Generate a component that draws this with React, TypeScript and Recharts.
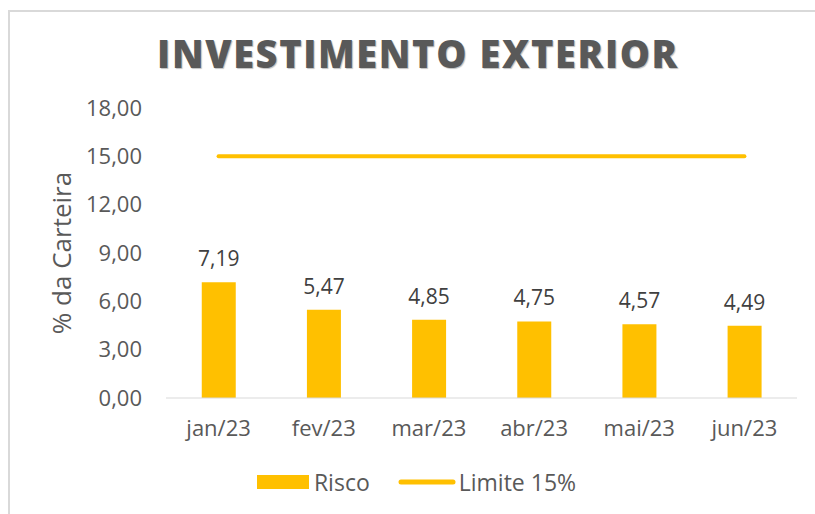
import { ComposedChart, Bar, Line, XAxis, YAxis, LabelList, Legend } from 'recharts'

const months = ['jan/23', 'fev/23', 'mar/23', 'abr/23', 'mai/23', 'jun/23']
const risco = [7.19, 5.47, 4.85, 4.75, 4.57, 4.49]
const limite = [15, 15, 15, 15, 15, 15]
const yTicks = [0, 3, 6, 9, 12, 15, 18]

const data = months.map((m, i) => ({ month: m, risco: risco[i], limite: limite[i] }))

const YELLOW = '#FFC000'
const GRAY = '#595959'
const FONT = '"Open Sans", sans-serif'

const fmt = (v: number) => v.toFixed(2).replace('.', ',')

function LegendContent() {
  return (
    <div style={{ display: 'flex', justifyContent: 'center', alignItems: 'center', fontFamily: FONT, fontSize: 23, color: GRAY, paddingLeft: 36 }}>
      <svg width={52} height={14} style={{ marginRight: 5 }}>
        <rect x={0} y={0} width={52} height={14} fill={YELLOW} />
      </svg>
      <span style={{ marginRight: 28 }}>Risco</span>
      <svg width={58} height={14} style={{ marginRight: 3 }}>
        <line x1={3} y1={7} x2={55} y2={7} stroke={YELLOW} strokeWidth={5} strokeLinecap="round" />
      </svg>
      <span>Limite 15%</span>
    </div>
  )
}

export default function App() {
  return (
    <div style={{ position: 'absolute', left: 0, top: 0, width: 815, height: 514, background: '#fff' }}>
      <div style={{ position: 'absolute', left: 8, top: 10, width: 807, height: 504, borderTop: '2px solid #d9d9d9', borderLeft: '2px solid #d9d9d9' }} />
      <div
        style={{
          position: 'absolute', left: 0, top: 27, width: 836, textAlign: 'center',
          fontFamily: FONT, fontWeight: 800, fontSize: 38, color: GRAY,
          textShadow: '1px 1px 1px #bfbfbf', letterSpacing: 1.6,
        }}
      >
        INVESTIMENTO EXTERIOR
      </div>
      <div style={{ position: 'absolute', left: 0, top: 0 }}>
        <ComposedChart width={815} height={514} data={data} margin={{ top: 108, right: 18, left: 0, bottom: 56 }} barCategoryGap="34%">
          <XAxis
            dataKey="month"
            tickLine={false}
            axisLine={{ stroke: '#d9d9d9', strokeWidth: 1 }}
            tick={{ fill: GRAY, fontSize: 22, fontFamily: FONT }}
            tickMargin={16}
            height={30}
          />
          <YAxis
            domain={[0, 18]}
            ticks={yTicks}
            width={166}
            tickFormatter={fmt}
            axisLine={false}
            tickLine={false}
            tick={{ fill: GRAY, fontSize: 22, fontFamily: FONT }}
            tickMargin={18}
            label={{ value: '% da Carteira', angle: -90, position: 'insideLeft', offset: 62, style: { fill: GRAY, fontSize: 26, fontFamily: FONT, textAnchor: 'middle' } }}
          />
          <Legend verticalAlign="bottom" height={30} wrapperStyle={{ top: 466, bottom: 'auto' }} content={<LegendContent />} />
          <Bar dataKey="risco" name="Risco" fill={YELLOW} isAnimationActive={false}>
            <LabelList dataKey="risco" position="top" offset={16} formatter={(v: any) => fmt(Number(v))} style={{ fill: '#404040', fontSize: 21, fontFamily: FONT }} />
          </Bar>
          <Line dataKey="limite" name="Limite 15%" stroke={YELLOW} strokeWidth={4} strokeLinecap="round" dot={false} isAnimationActive={false} />
        </ComposedChart>
      </div>
    </div>
  )
}
